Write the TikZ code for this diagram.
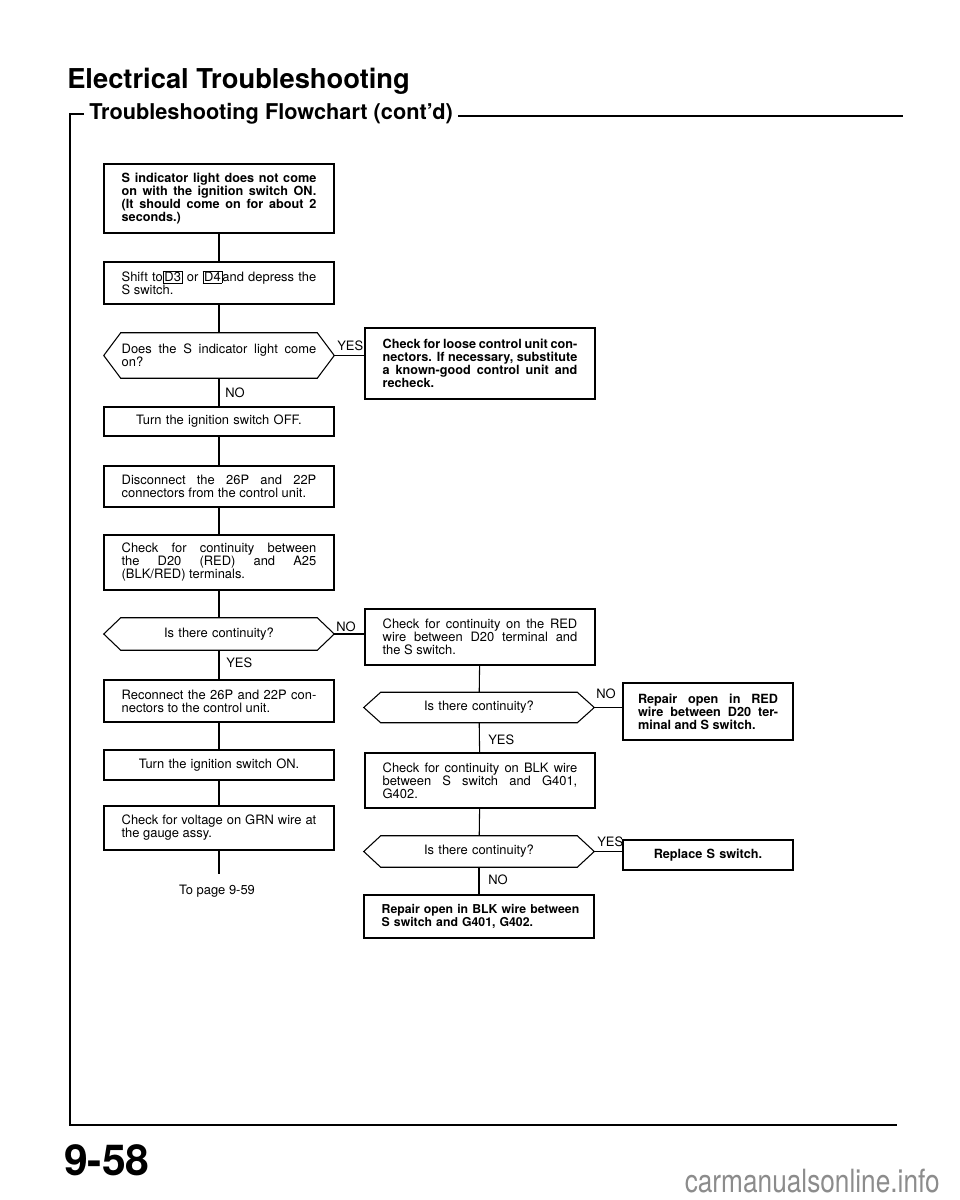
\documentclass[tikz,border=0pt]{standalone}
\usepackage{fontspec}
\setmainfont{TeX Gyre Heros}
\usetikzlibrary{calc}
\hbadness=10000
\hfuzz=12pt
\newcommand\keybox[1]{{\setlength\fboxsep{0.6pt}\setlength\fboxrule{0.6pt}\fbox{#1}}}
\newcommand\hexof[1]{\draw[conn] (#1.west) -- ([shift={(17,0)}]#1.north west) -- ([shift={(-17,0)}]#1.north east) -- (#1.east) -- ([shift={(-17,0)}]#1.south east) -- ([shift={(17,0)}]#1.south west) -- cycle;}
\tikzset{
  conn/.style={line width=0.8pt},
  frameline/.style={line width=1.5pt},
  box/.style={draw, line width=0.8pt, text width=146pt, inner xsep=13.25pt, inner ysep=2pt, align=justify, font=\fontsize{9.7}{9.75}\selectfont},
  bbox/.style={box, font=\fontsize{9.5}{9.75}\selectfont\bfseries},
  cbox/.style={box, align=center},
  sbox/.style={bbox, text width=105pt, inner xsep=11.25pt},
  hexnode/.style={text width=146pt, inner xsep=13.25pt, inner ysep=2pt, align=justify, font=\fontsize{9.7}{9.75}\selectfont},
  lbl/.style={font=\fontsize{9.7}{10}\selectfont, inner sep=0pt},
}
\begin{document}
\begin{tikzpicture}[x=0.75pt, y=-0.75pt]
\useasboundingbox (0,0) rectangle (960,1200);
\fill[white] (0,0) rectangle (960,1200);

% headings and frame
\node[anchor=base west, inner sep=0pt, font=\fontsize{20.5}{24}\selectfont\bfseries] (title) at (67,88) {Electrical Troubleshooting};
\node[anchor=base west, inner sep=0pt, font=\fontsize{16.3}{19}\selectfont\bfseries] (sub) at (89,119) {Troubleshooting Flowchart (cont'd)};
\draw[frameline] (84,114) -- (70,114) -- (70,1125) -- (897,1125);
\draw[frameline] (458,116) -- (903,116);
\node[anchor=base west, inner sep=0pt, font=\fontsize{32}{36}\selectfont\bfseries] (page) at (64,1175) {9-58};
\node[anchor=base east, inner sep=0pt, text=black!45, font=\fontsize{24}{28}\selectfont] (wm) at (940,1192) {\scalebox{0.82}[1]{carmanualsonline.info}};

% left column
\node[bbox, minimum height=51.75pt] (b1) at (219,198.5) {S indicator light does not come\linebreak on with the ignition switch ON.\linebreak (It should come on for about 2\linebreak seconds.)};
\node[box, minimum height=31.5pt] (b2) at (219,283) {Shift to\keybox{D3} or \keybox{D4}and depress the\linebreak S switch.};
\node[hexnode, minimum height=33.75pt] (d1) at (219,355.5) {Does the S indicator light come\linebreak on?};
\hexof{d1}
\node[cbox, minimum height=21.75pt] (b4) at (219,421.5) {Turn the ignition switch OFF.};
\node[box, minimum height=30.75pt] (b5) at (219,486.5) {Disconnect the 26P and 22P\linebreak connectors from the control unit.};
\node[box, minimum height=41.25pt] (b6) at (219,562.5) {Check for continuity between\linebreak the D20 (RED) and A25\linebreak (BLK/RED) terminals.};
\node[hexnode, align=center, minimum height=24pt] (d2) at (219,634) {Is there continuity?};
\hexof{d2}
\node[box, minimum height=31.5pt] (b8) at (219,701) {Reconnect the 26P and 22P con-\linebreak nectors to the control unit.};
\node[cbox, minimum height=22.5pt] (b9) at (219,765) {Turn the ignition switch ON.};
\node[box, minimum height=33pt] (b10) at (219,828) {Check for voltage on GRN wire at\linebreak the gauge assy.};
\coordinate (endp) at (219,874);
\node[lbl] (topage) at (217,891) {To page 9-59};

% right column
\node[bbox, minimum height=53.25pt] (b3) at (480,363.5) {Check for loose control unit con-\linebreak nectors. If necessary, substitute\linebreak a known-good control unit and\linebreak recheck.};
\node[box, minimum height=42pt] (b7) at (480,637) {Check for continuity on the RED\linebreak wire between D20 terminal and\linebreak the S switch.};
\node[hexnode, align=center, minimum height=22.5pt] (d3) at (479,707.5) {Is there continuity?};
\hexof{d3}
\node[sbox, minimum height=42.75pt] (b11) at (708,711.5) {Repair open in RED\linebreak wire between D20 ter-\linebreak minal and S switch.};
\node[box, minimum height=41.25pt] (b12) at (480,780.5) {Check for continuity on BLK wire\linebreak between S switch and G401,\linebreak G402.};
\node[hexnode, align=center, minimum height=23.25pt] (d4) at (479,851.5) {Is there continuity?};
\hexof{d4}
\node[sbox, align=center, minimum height=22.5pt] (b13) at (708,855) {Replace S switch.};
\node[bbox, align=left, font=\fontsize{9.2}{9.75}\selectfont\bfseries, minimum height=32.25pt] (b14) at (479,916.5) {\mbox{Repair open in BLK wire between}\\\mbox{S switch and G401, G402.}};

% connectors
\draw[conn] (b1) -- (b2);
\draw[conn] (b2) -- (d1);
\draw[conn] (d1) -- (b4);
\draw[conn] (b4) -- (b5);
\draw[conn] (b5) -- (b6);
\draw[conn] (b6) -- (d2);
\draw[conn] (d2) -- (b8);
\draw[conn] (b8) -- (b9);
\draw[conn] (b9) -- (b10);
\draw[conn] (b10.south) -- (endp);
\draw[conn] (d1.east) -- (d1.east -| b3.west);
\draw[conn] (d2.east) -- (d2.east -| b7.west);
\draw[conn] (b7) -- (d3);
\draw[conn] (d3) -- (b12);
\draw[conn] (d3.east) -- (d3.east -| b11.west);
\draw[conn] (b12) -- (d4);
\draw[conn] (d4) -- (b14);
\draw[conn] (d4.east) -- (d4.east -| b13.west);

% labels
\node[lbl, anchor=west] (yes1) at (337,346) {YES};
\node[lbl, anchor=west] (no1) at (225,393) {NO};
\node[lbl, anchor=west] (no2) at (336,627) {NO};
\node[lbl, anchor=west] (yes2) at (226,663) {YES};
\node[lbl, anchor=west] (no3) at (596,694) {NO};
\node[lbl, anchor=west] (yes3) at (488,740) {YES};
\node[lbl, anchor=west] (yes4) at (597,842) {YES};
\node[lbl, anchor=west] (no4) at (488,880) {NO};
\end{tikzpicture}
\end{document}
